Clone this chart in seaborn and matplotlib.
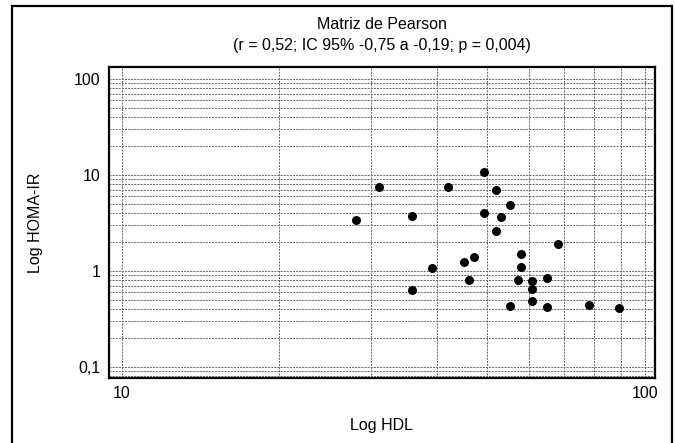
import numpy as np
import pandas as pd
import matplotlib
matplotlib.use("Agg")
import matplotlib.pyplot as plt
import matplotlib.ticker as mticker
from matplotlib.patches import Rectangle
import seaborn as sns

# Data
hdl = [28.0, 31.0, 35.9, 35.9, 39.2, 42.0, 45.1, 47.1, 46.1, 49.2, 49.2, 52.0, 52.0, 53.1,
       55.2, 55.2, 58.1, 58.1, 57.1, 60.9, 60.9, 60.9, 65.0, 65.0, 68.1, 78.2, 89.3]
homa = [3.39, 7.55, 3.73, 0.628, 1.07, 7.55, 1.23, 1.39, 0.80, 10.8, 4.04, 6.92, 2.60, 3.64,
        4.82, 0.434, 1.49, 1.09, 0.81, 0.79, 0.654, 0.482, 0.852, 0.420, 1.93, 0.445, 0.407]
x_ticks = [10, 100]
x_tick_labels = ["10", "100"]
y_ticks = [0.1, 1, 10, 100]
y_tick_labels = ["0,1", "1", "10", "100"]
title_lines = ["Matriz de Pearson", "(r = 0,52; IC 95% -0,75 a -0,19; p = 0,004)"]
x_label = "Log HDL"
y_label = "Log HOMA-IR"

df = pd.DataFrame({"HDL": hdl, "HOMA": homa})

sns.set_style("white")
plt.rcParams["font.family"] = ["Liberation Sans", "DejaVu Sans"]
plt.rcParams["text.color"] = "black"
plt.rcParams["axes.labelcolor"] = "black"
plt.rcParams["xtick.color"] = "black"
plt.rcParams["ytick.color"] = "black"

fig = plt.figure(figsize=(6.75, 4.43), dpi=100)
ax = fig.add_axes([109/675, 1-378/443, (655-109)/675, (378-67)/443])

ax.set_xscale("log")
ax.set_yscale("log")
ax.set_xlim(9.45, 104.6)
ax.set_ylim(0.0767, 133)

sns.scatterplot(data=df, x="HDL", y="HOMA", ax=ax, color="black", s=42,
                edgecolor="black", linewidth=0, zorder=5)

ax.xaxis.set_major_locator(mticker.FixedLocator(x_ticks))
ax.xaxis.set_major_formatter(mticker.FixedFormatter(x_tick_labels))
ax.yaxis.set_major_locator(mticker.FixedLocator(y_ticks))
ax.yaxis.set_major_formatter(mticker.FixedFormatter(y_tick_labels))
ax.xaxis.set_minor_locator(mticker.LogLocator(base=10, subs=np.arange(2, 10)))
ax.yaxis.set_minor_locator(mticker.LogLocator(base=10, subs=np.arange(2, 10)))
ax.xaxis.set_minor_formatter(mticker.NullFormatter())
ax.yaxis.set_minor_formatter(mticker.NullFormatter())

ax.grid(True, which="both", axis="both", color="#666666", linestyle=(0, (2, 1.2)),
        linewidth=0.7, zorder=1)
ax.set_axisbelow(True)

ax.tick_params(which="both", direction="in", length=4, width=1, color="black",
               labelcolor="black", labelsize=11.5, pad=6, top=False, right=False)
ax.tick_params(which="minor", length=3)

for sp in ax.spines.values():
    sp.set_linewidth(1.6)
    sp.set_color("black")
    sp.set_visible(True)

ax.set_xlabel(x_label, fontsize=11.5, labelpad=12, color="black")
ax.set_ylabel(y_label, fontsize=11.5, labelpad=22, color="black")
ax.set_title(title_lines[0] + "\n" + title_lines[1], fontsize=11.5, pad=12,
             linespacing=1.5, color="black")

# outer frame
fig.patches.append(Rectangle((12/675, -0.05), (672-12)/675, 1.05 - 6/443,
                             transform=fig.transFigure, fill=False,
                             edgecolor="black", linewidth=1.6, clip_on=False))

fig.savefig("out.png", dpi=100)
